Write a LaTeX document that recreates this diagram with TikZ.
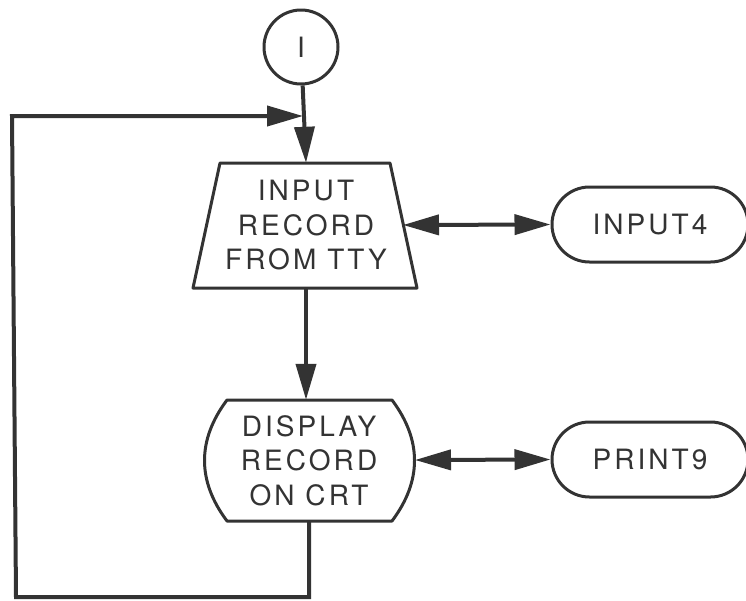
\documentclass[tikz,border=0pt]{standalone}
\usepackage{fontspec}
\setmainfont{TeX Gyre Heros}[LetterSpace=11]
\usetikzlibrary{arrows.meta,shapes.misc}
\definecolor{ink}{HTML}{333333}
\begin{document}
\begin{tikzpicture}[x=1pt,y=-1pt,
  every node/.style={text=ink,font=\fontsize{28}{34.5}\selectfont,align=center,inner sep=0pt},
  outline/.style={draw=ink,line width=3pt,line join=round},
  conn/.style={draw=ink,line width=4pt,line join=miter},
  tip/.style={-{Triangle[length=36pt,width=20pt]}},
  dbltip/.style={{Triangle[length=36pt,width=20pt]}-{Triangle[length=36pt,width=20pt]}},
  term/.style={rounded rectangle,outline,minimum width=196pt,minimum height=75pt}
]
\useasboundingbox (0,0) rectangle (746,600);

% connector circle
\node[circle,outline,minimum size=74pt] (c) at (301,47) {I};

% input trapezoid
\draw[outline] (220,163) -- (390,163) -- (417,288) -- (193,288) -- cycle;
\node[minimum width=224pt,minimum height=125pt] (inp) at (306,225.5) {INPUT\\RECORD\\FROM TTY};
\coordinate (inpR) at (403,225);

% display shape
\draw[outline] (227,400) -- (392,400)
  .. controls (422,440) and (422,481) .. (392,521) -- (227,521)
  .. controls (197,481) and (197,440) .. (227,400) -- cycle;
\node[minimum width=212pt,minimum height=121pt] (disp) at (309,460.5) {DISPLAY\\RECORD\\ON CRT};
\coordinate (dispR) at (415,460);

% terminals
\node[term] (in4) at (650,224.5) {INPUT4};
\node[term] (pr9) at (650,459.5) {PRINT9};

% connectors
\draw[conn,tip] (c) -- (inp.north);
\draw[conn,tip] (inp.south) -- (inp.south |- disp.north);
\draw[conn,dbltip] (inpR) -- (in4.west);
\draw[conn,dbltip] (dispR) -- (pr9.west);

\coordinate (loopB) at (16,597);
\coordinate (loopT) at (12,116);
\coordinate (join) at (303,116);
\draw[conn,tip] (disp.south) |- (loopB) -- (loopT) -- (join);
\end{tikzpicture}
\end{document}
